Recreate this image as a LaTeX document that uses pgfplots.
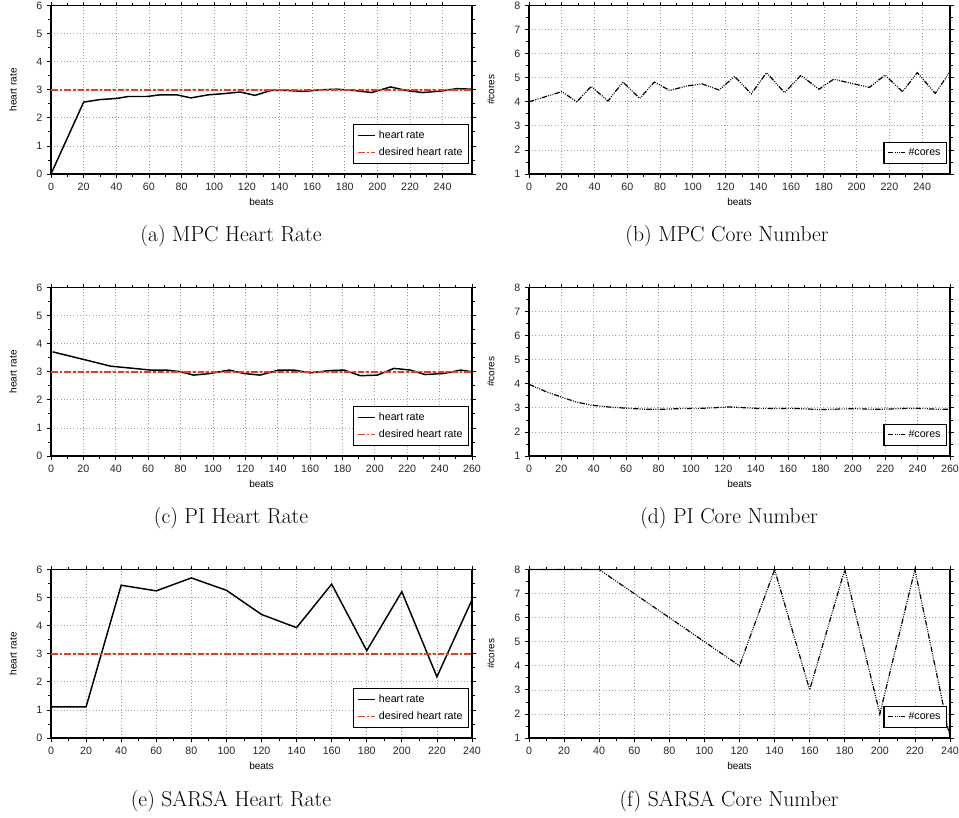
\documentclass[border=0pt]{standalone}
\usepackage{fontspec}
\setsansfont{Liberation Sans}
\usepackage{pgfplots}
\pgfplotsset{compat=1.18}

\definecolor{desired}{RGB}{240,58,30}

\pgfplotsset{
  panel/.style={
    scale only axis, width=421*0.75pt, height=168.5*0.75pt, anchor=south west,
    font=\sffamily\fontsize{7.5}{9}\selectfont,
    /pgf/number format/assume math mode=true,
    tick label style={font=\sffamily\fontsize{8}{9}\selectfont, text=black!85},
    grid=major, major grid style={gray!75, dotted, line width=0.55pt},
    minor x tick num=1, minor y tick num=1,
    tick align=outside, major tick length=3pt, minor tick length=2pt,
    tick style={black, line width=0.6pt},
    axis line style={line width=0.8pt},
    xlabel=beats,
    xlabel style={at={(axis description cs:0.5,-0.167)}, anchor=center},
    ylabel style={at={(axis description cs:-0.09,0.5)}, anchor=center},
    legend cell align=left,
    legend style={at={(rel axis cs:0.993,0.06)}, anchor=south east,
      draw=black, line width=0.8pt, font=\sffamily\fontsize{8}{9.5}\selectfont,
      row sep=1.5pt, inner xsep=2.5pt, inner ysep=2.5pt},
    legend image code/.code={\draw[#1] (0pt,0pt) -- (13pt,0pt);},
    clip=false,
  },
  hrpanel/.style={panel, ymin=0, ymax=6, ytick={0,1,...,6}, ylabel={heart rate}},
  corepanel/.style={panel, ymin=1, ymax=8, ytick={1,2,...,8}, ylabel={\#cores}},
  hr/.style={black, line width=1.1pt, mark=none},
  des/.style={desired, line width=1.3pt, mark=none, dash pattern=on 5pt off 1.5pt on 2pt off 1.5pt},
  cores/.style={black, line width=0.9pt, mark=none,
    dash pattern=on 4pt off 1pt on 0.7pt off 1pt on 0.7pt off 1pt on 0.7pt off 1pt},
}

\begin{document}
\begin{tikzpicture}
\path[use as bounding box] (0,0) rectangle (959*0.75pt,-817*0.75pt);

% (a) MPC heart rate
\begin{axis}[hrpanel, at={(51*0.75pt,-174*0.75pt)}, xmin=0, xmax=258, xtick={0,20,...,240}]
\addplot[hr] coordinates {
 (0,0) (20,2.56) (30,2.65) (40,2.69) (47.5,2.76) (58.8,2.76) (67,2.82) (77,2.82)
 (85.7,2.71) (96.5,2.82) (105.7,2.86) (116,2.92) (125,2.80) (135,2.98) (143.5,2.98)
 (154.7,2.94) (166,3.0) (175,3.02) (185,2.98) (196.5,2.90) (208,3.10) (219,2.96)
 (228,2.90) (240,2.96) (248.6,3.04) (258,3.02)};
\addlegendentry{heart rate}
\addplot[des] coordinates {(0,3) (258,3)};
\addlegendentry{desired heart rate}
\end{axis}

% (b) MPC core number
\begin{axis}[corepanel, at={(529*0.75pt,-174*0.75pt)}, xmin=0, xmax=257, xtick={0,20,...,240}]
\addplot[cores] coordinates {
 (0,4.0) (20,4.42) (29.2,4.0) (38,4.64) (48.2,4.03) (57.3,4.82) (67.6,4.14) (76.5,4.82)
 (85.9,4.47) (96.5,4.66) (105.7,4.74) (116,4.49) (125.5,5.05) (135.7,4.33) (145,5.21)
 (156,4.38) (166,5.10) (177,4.52) (186,4.94) (196.5,4.77) (207.8,4.60) (217.3,5.11)
 (228,4.42) (237,5.21) (248,4.35) (257,5.25)};
\addlegendentry{\#cores}
\end{axis}

% (c) PI heart rate
\begin{axis}[hrpanel, at={(51*0.75pt,-456*0.75pt)}, xmin=0, xmax=260, xtick={0,20,...,260}]
\addplot[hr] coordinates {
 (1,3.71) (20,3.44) (36.7,3.20) (51,3.12) (61.4,3.06) (71.7,3.06) (80,3.0) (88,2.88)
 (98.5,2.94) (110,3.06) (119,2.94) (129,2.88) (140.7,3.06) (150,3.06) (160,2.96)
 (171.6,3.04) (181,3.06) (191,2.86) (201.5,2.88) (211.8,3.12) (222,3.06) (231,2.90)
 (242.7,2.94) (253,3.06) (260,3.0)};
\addlegendentry{heart rate}
\addplot[des] coordinates {(0,3) (260,3)};
\addlegendentry{desired heart rate}
\end{axis}

% (d) PI core number
\begin{axis}[corepanel, at={(529*0.75pt,-456*0.75pt)}, xmin=0, xmax=260, xtick={0,20,...,260}]
\addplot[cores] coordinates {
 (0,3.98) (11,3.66) (20,3.45) (29.4,3.24) (38.6,3.11) (52,3.02) (62,2.98) (72.5,2.94)
 (81.7,2.94) (93,2.97) (103,2.97) (113.5,3.0) (122.8,3.04) (132,3.01) (142,2.97)
 (152.6,2.97) (162.8,2.98) (173,2.95) (181,2.93) (191.6,2.95) (202,2.97) (212,2.94)
 (222,2.95) (232.6,2.98) (243,2.97) (253,2.94) (260,2.94)};
\addlegendentry{\#cores}
\end{axis}

% (e) SARSA heart rate
\begin{axis}[hrpanel, at={(51*0.75pt,-738*0.75pt)}, xmin=0, xmax=240, xtick={0,20,...,240}]
\addplot[hr] coordinates {
 (0,1.11) (20,1.11) (40,5.44) (60,5.24) (80,5.70) (100,5.26) (120,4.40) (140,3.93)
 (160,5.48) (180,3.11) (200,5.21) (220,2.18) (240,4.92)};
\addlegendentry{heart rate}
\addplot[des] coordinates {(0,3) (240,3)};
\addlegendentry{desired heart rate}
\end{axis}

% (f) SARSA core number
\begin{axis}[corepanel, at={(529*0.75pt,-738*0.75pt)}, xmin=0, xmax=240, xtick={0,20,...,240}]
\addplot[cores] coordinates {
 (0,8) (20,8) (40,8) (60,7) (80,6) (100,5) (120,4) (140,8) (160,3) (180,8) (200,2)
 (220,8) (240,1)};
\addlegendentry{\#cores}
\end{axis}

% sub-figure captions
\begin{scope}[every node/.style={anchor=base, font=\fontsize{16.2}{19}\selectfont}]
\node at (231*0.75pt,-241*0.75pt) {(a) MPC Heart Rate};
\node at (727*0.75pt,-241*0.75pt) {(b) MPC Core Number};
\node at (231*0.75pt,-523*0.75pt) {(c) PI Heart Rate};
\node at (729*0.75pt,-523*0.75pt) {(d) PI Core Number};
\node at (231*0.75pt,-806*0.75pt) {(e) SARSA Heart Rate};
\node at (729*0.75pt,-806*0.75pt) {(f) SARSA Core Number};
\end{scope}
\end{tikzpicture}
\end{document}
